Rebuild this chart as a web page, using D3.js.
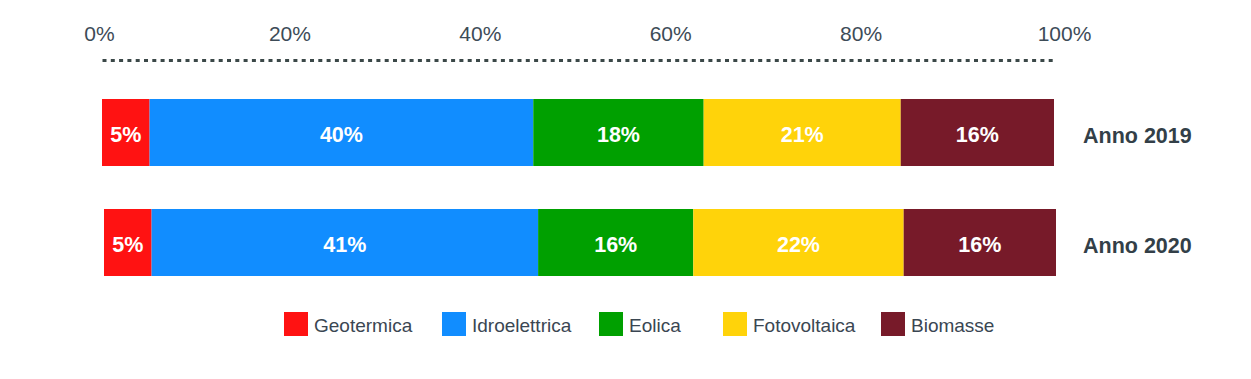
<!DOCTYPE html>
<html>
<head>
<meta charset="utf-8">
<script src="https://cdn.jsdelivr.net/npm/d3@7/dist/d3.min.js"></script>
<style>
  body { margin: 0; background: #fff; }
  svg { display: block; font-family: "Liberation Sans", Arial, Helvetica, sans-serif; }
</style>
</head>
<body>
<svg id="chart" width="1251" height="379"></svg>
<script>
// --- Data ---
const years = ['Anno 2019', 'Anno 2020'];
const sources = ['Geotermica', 'Idroelettrica', 'Eolica', 'Fotovoltaica', 'Biomasse'];
const values2019 = [5.0, 40.3, 17.9, 20.7, 16.1];
const values2020 = [5.0, 40.6, 16.3, 22.1, 16.0];
const axisTicks = [0, 20, 40, 60, 80, 100];

// --- Style / layout ---
const colors = ['#ff1212', '#118dff', '#00a000', '#ffd30a', '#771a29'];
const rowShift = [0, 2];
const legendX = [284, 442, 599, 723, 881];

const svg = d3.select('#chart');

const x = d3.scaleLinear().domain([0, 100]).range([102, 1054]);
const y = d3.scaleBand().domain(years).range([99, 276]).paddingInner(43 / 110).paddingOuter(0);
const color = d3.scaleOrdinal().domain(sources).range(colors);

const rows = [values2019, values2020].map((vals, i) => {
    let acc = 0;
    return {
        year: years[i],
        shift: rowShift[i],
        segs: vals.map((v, j) => {
            const s = { source: sources[j], v, x0: acc, x1: acc + v };
            acc += v;
            return s;
        })
    };
});

// --- Top axis with dotted domain line ---
const axis = svg.append('g')
    .attr('transform', 'translate(0,60)')
    .call(d3.axisTop(x).tickValues(axisTicks).tickFormat(d => d + '%').tickSize(0).tickPadding(19));

axis.select('.domain')
    .attr('stroke', '#3b4848')
    .attr('stroke-width', 3)
    .attr('stroke-dasharray', '4,4.3');

axis.selectAll('.tick text')
    .attr('fill', '#3d4b57')
    .attr('font-size', 21)
    .attr('font-family', '"Liberation Sans", Arial, sans-serif')
    .attr('dx', d => d === 100 ? 10 : -3);

// --- Bars ---
const row = svg.selectAll('.row')
    .data(rows)
    .enter().append('g')
    .attr('class', 'row')
    .attr('transform', d => `translate(${d.shift},${y(d.year)})`);

row.selectAll('rect')
    .data(d => d.segs)
    .enter().append('rect')
    .attr('x', d => x(d.x0))
    .attr('width', d => x(d.x1) - x(d.x0))
    .attr('y', 0)
    .attr('height', y.bandwidth())
    .attr('fill', d => color(d.source));

row.selectAll('text.val')
    .data(d => d.segs)
    .enter().append('text')
    .attr('class', 'val')
    .attr('x', d => (x(d.x0) + x(d.x1)) / 2)
    .attr('y', 43)
    .attr('text-anchor', 'middle')
    .attr('fill', '#fff')
    .attr('font-weight', 'bold')
    .attr('font-size', 21.5)
    .text(d => Math.round(d.v) + '%');

// row labels
svg.selectAll('.ylabel')
    .data(years)
    .enter().append('text')
    .attr('class', 'ylabel')
    .attr('x', 1083)
    .attr('y', d => y(d) + 44)
    .attr('fill', '#333f48')
    .attr('font-weight', 'bold')
    .attr('font-size', 21.5)
    .text(d => d);

// --- Legend ---
const leg = svg.selectAll('.leg')
    .data(sources)
    .enter().append('g')
    .attr('class', 'leg')
    .attr('transform', (d, i) => `translate(${legendX[i]},312)`);

leg.append('rect')
    .attr('width', 24)
    .attr('height', 24)
    .attr('fill', d => color(d));

leg.append('text')
    .attr('x', 30)
    .attr('y', 20)
    .attr('fill', '#3a4652')
    .attr('font-size', 19)
    .text(d => d);
</script>
</body>
</html>
